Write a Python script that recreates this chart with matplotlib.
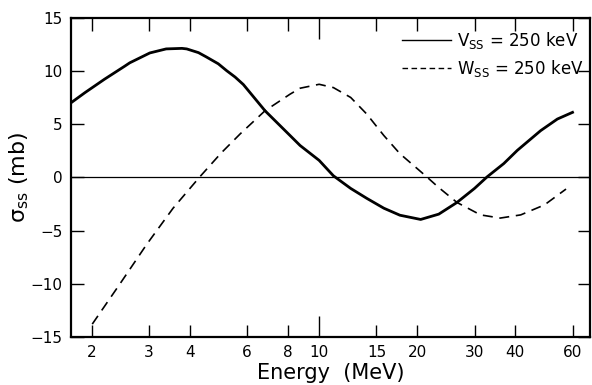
import matplotlib
matplotlib.use("Agg")
import matplotlib.pyplot as plt
from matplotlib.lines import Line2D

plt.rcParams['font.family'] = ['DejaVu Sans']
plt.rcParams['mathtext.default'] = 'regular'

# V_SS = 250 keV (solid)
v_energy = [1.735, 1.91, 2.19, 2.53, 2.62, 3.02, 3.39, 3.79, 3.92, 4.26, 4.5, 4.9, 5.2,
            5.52, 5.85, 6.82, 8.14, 8.74, 10.0, 11.06, 12.5, 14.0, 15.8, 17.7, 20.5, 23.3,
            26.5, 30.0, 32.8, 36.9, 40.6, 47.9, 53.9, 60.0]
v_sigma = [7.06, 7.99, 9.24, 10.48, 10.79, 11.72, 12.1, 12.15, 12.1, 11.75, 11.35, 10.7, 10.05,
           9.45, 8.75, 6.28, 3.95, 3.01, 1.61, 0.16, -1.03, -1.96, -2.89, -3.55, -3.95, -3.45,
           -2.35, -1.03, 0.06, 1.31, 2.55, 4.41, 5.5, 6.13]

# W_SS = 250 keV (dashed)
w_energy = [2.01, 2.44, 2.95, 3.56, 4.30, 5.0, 5.72, 6.82, 8.14, 8.74, 10.0, 11.06, 12.5,
            14.0, 15.8, 17.7, 20.0, 21.4, 23.2, 26.5, 31.3, 36.0, 41.6, 49.2, 57.3]
w_sigma = [-13.8, -10.05, -6.32, -2.89, 0.06, 2.3, 4.1, 6.28, 7.84, 8.4, 8.77, 8.46, 7.53,
           5.97, 3.95, 2.24, 0.84, 0.06, -0.9, -2.35, -3.52, -3.82, -3.52, -2.58, -1.09]

x_ticks = [2, 3, 4, 6, 8, 10, 15, 20, 30, 40, 60]
y_ticks = [15, 10, 5, 0, -5, -10, -15]
legend_labels = ['V$_{SS}$ = 250 keV', 'W$_{SS}$ = 250 keV']

fig = plt.figure(figsize=(5.92, 3.85), dpi=100)
ax = fig.add_axes([0.12, 0.125, 0.877, 0.828])

ax.plot(v_energy, v_sigma, color='black', lw=2.0, ls='-')
ax.plot(w_energy, w_sigma, color='black', lw=1.2, ls=(0, (6, 4)))
ax.axhline(0, color='black', lw=0.9)

ax.set_xscale('log')
ax.set_xlim(1.73, 68)
ax.set_ylim(-15, 15)
ax.set_xticks(x_ticks)
ax.set_xticklabels([str(t) for t in x_ticks])
ax.xaxis.set_minor_locator(matplotlib.ticker.NullLocator())
ax.set_yticks(y_ticks)
ax.set_yticklabels([str(t).replace('-', '\u2212') for t in y_ticks])

ax.tick_params(axis='both', which='major', direction='in', length=9, width=1.0,
               top=True, right=True, labelsize=11, pad=6)
# longer tick at 10
for tk in ax.xaxis.get_major_ticks():
    if tk.get_loc() == 10:
        tk.tick1line.set_markersize(15)
        tk.tick2line.set_markersize(15)

for s in ax.spines.values():
    s.set_linewidth(1.6)

ax.set_xlabel('Energy  (MeV)', fontsize=15, labelpad=2)
ax.set_ylabel('$\\sigma_{ss}$ (mb)', fontsize=16, labelpad=2)
ax.yaxis.set_label_coords(-0.078, 0.5)

handles = [Line2D([], [], color='black', lw=1.0, ls='-'),
           Line2D([], [], color='black', lw=1.0, ls=(0, (4, 2.5)))]
ax.legend(handles, legend_labels, loc='upper left', bbox_to_anchor=(0.625, 0.985),
          frameon=False, fontsize=12, handlelength=2.9, handletextpad=0.4,
          labelspacing=0.45, borderaxespad=0)

fig.savefig('out.png', dpi=100, facecolor='white')
